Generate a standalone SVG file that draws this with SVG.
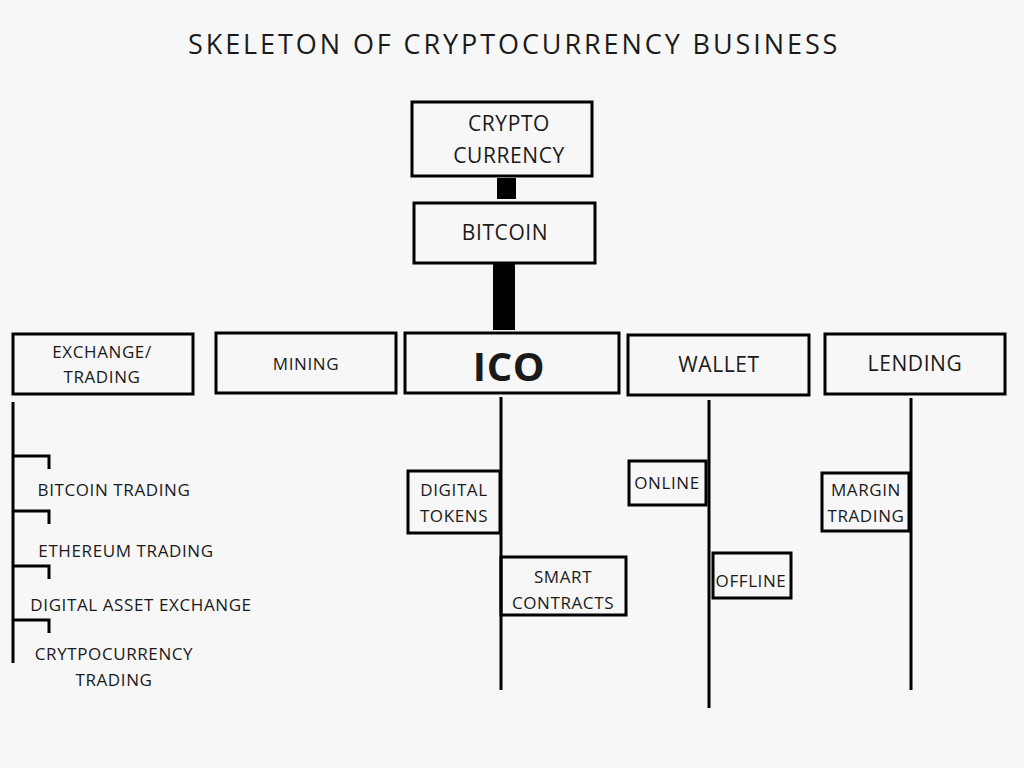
<svg xmlns="http://www.w3.org/2000/svg" width="1024" height="768" viewBox="0 0 1024 768">
<style>
.b{fill:none;stroke:#000;stroke-width:3}
.t{font-family:"Open Sans","Liberation Sans",sans-serif;fill:#1a1a1a;text-anchor:middle;letter-spacing:0.6px}
.l{stroke:#000;stroke-width:3;fill:none}
</style>
<rect width="1024" height="768" fill="#f7f7f7"/>
<text class="t" x="513" y="54" font-size="27" textLength="650" lengthAdjust="spacing">SKELETON OF CRYPTOCURRENCY BUSINESS</text>
<g id="connectors">
<rect x="497" y="178" width="19" height="21" fill="#000"/>
<rect x="493" y="263" width="22" height="67" fill="#000"/>
<path class="l" d="M13 402V663"/>
<path class="l" d="M13 456H49V469M13 511H49V524M13 566H49V579M13 620H49V633"/>
<path class="l" d="M501 397V690M709 400V708M911 398V690"/>
</g>
<g id="crypto"><rect class="b" x="412" y="102" width="180" height="74"/><text class="t" x="509" y="131" font-size="21">CRYPTO</text><text class="t" x="509" y="163" font-size="21">CURRENCY</text></g>
<g id="bitcoin"><rect class="b" x="414" y="203" width="181" height="60"/><text class="t" x="505" y="240" font-size="21">BITCOIN</text></g>
<g id="exchange"><rect class="b" x="13" y="334" width="180" height="60"/><text class="t" x="102" y="358" font-size="17">EXCHANGE/</text><text class="t" x="102" y="383" font-size="17">TRADING</text></g>
<g id="mining"><rect class="b" x="216" y="333" width="180" height="60"/><text class="t" x="306" y="370" font-size="17">MINING</text></g>
<g id="ico"><rect class="b" x="405" y="333" width="214" height="60"/><text class="t" x="509" y="381" font-size="40" font-weight="bold">ICO</text></g>
<g id="wallet"><rect class="b" x="628" y="335" width="181" height="60"/><text class="t" x="719" y="372" font-size="21">WALLET</text></g>
<g id="lending"><rect class="b" x="825" y="334" width="180" height="60"/><text class="t" x="915" y="371" font-size="21">LENDING</text></g>
<g id="bitcoin-trading"><text class="t" x="114" y="496" font-size="17">BITCOIN TRADING</text></g>
<g id="ethereum-trading"><text class="t" x="126" y="557" font-size="17">ETHEREUM TRADING</text></g>
<g id="digital-asset"><text class="t" x="141" y="611" font-size="17">DIGITAL ASSET EXCHANGE</text></g>
<g id="crypto-trading"><text class="t" x="114" y="660" font-size="17">CRYTPOCURRENCY</text><text class="t" x="114" y="686" font-size="17">TRADING</text></g>
<g id="digital-tokens"><rect class="b" x="408" y="471" width="92" height="62" fill="#f7f7f7"/><text class="t" x="454" y="496" font-size="17">DIGITAL</text><text class="t" x="454" y="522" font-size="17">TOKENS</text></g>
<g id="smart-contracts"><rect class="b" x="501" y="557" width="125" height="58"/><text class="t" x="563" y="583" font-size="17">SMART</text><text class="t" x="563" y="609" font-size="17">CONTRACTS</text></g>
<g id="online"><rect class="b" x="629" y="461" width="77" height="44"/><text class="t" x="667" y="489" font-size="17">ONLINE</text></g>
<g id="offline"><rect class="b" x="713" y="553" width="78" height="45"/><text class="t" x="751" y="587" font-size="17">OFFLINE</text></g>
<g id="margin"><rect class="b" x="822" y="473" width="87" height="58"/><text class="t" x="866" y="496" font-size="17">MARGIN</text><text class="t" x="866" y="522" font-size="17">TRADING</text></g>
</svg>
